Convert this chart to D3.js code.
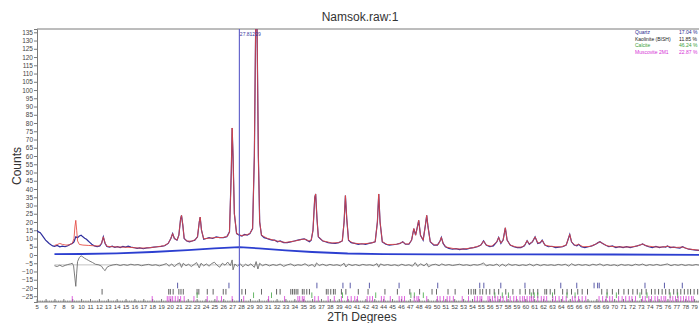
<!DOCTYPE html>
<html>
<head>
<meta charset="utf-8">
<script src="https://cdn.jsdelivr.net/npm/d3@7/dist/d3.min.js"></script>
<style>
  html, body { margin: 0; padding: 0; background: #fff; }
  svg { display: block; }
</style>
</head>
<body>
<div id="chart"></div>
<script>
// observed counts [2Th, counts]
const observedPts = [
  [5.0,15],[5.2,14],[5.4,13.5],[5.6,12],[5.8,10.5],[6.0,9],[6.2,8],[6.4,7],[6.6,6.2],[6.8,5.5],
  [7.0,5.2],[7.3,5.8],[7.6,5.0],[7.9,5.4],[8.2,5.0],[8.5,5.6],[8.8,6.5],[9.0,7],[9.2,8],[9.4,11],
  [9.6,10.5],[9.8,11.5],[10.0,12],[10.2,11],[10.4,10.2],[10.6,9.5],[10.8,8.5],[11.0,7.5],[11.2,6.5],[11.5,5.5],
  [11.8,5],[12.1,5.5],[12.3,7],[12.5,11],[12.7,7],[12.9,5.2],[13.2,4.8],[13.5,5.3],[13.8,4.6],[14.1,5.0],
  [14.4,4.5],[14.7,5.2],[15.0,4.8],[15.3,5.4],[15.6,4.8],[16.0,4.4],[16.3,4.0],[16.6,4.3],[17.0,3.8],[17.4,4.3],
  [17.8,4.5],[18.2,4.8],[18.6,5.0],[19.0,5.2],[19.4,5.6],[19.8,7.0],[20.1,10],[20.3,13],[20.5,10],[20.8,9],
  [21.0,12],[21.2,22],[21.3,24],[21.45,18],[21.6,10],[21.9,8.5],[22.2,8],[22.5,8.5],[22.8,9],[23.1,11],
  [23.3,20],[23.4,23],[23.55,15],[23.8,9.5],[24.1,10],[24.4,10.5],[24.8,10],[25.2,11],[25.6,10.5],[26.0,10.5],
  [26.4,11],[26.7,14],[26.9,50],[27.0,77],[27.1,60],[27.25,25],[27.5,13],[27.8,12],[28.1,11.5],[28.4,12.5],
  [28.7,12],[29.0,13],[29.3,16],[29.5,60],[29.65,140],[29.8,140],[29.95,60],[30.1,20],[30.3,12],[30.6,10.5],
  [30.9,10],[31.2,9.5],[31.5,9],[31.8,9],[32.1,8],[32.4,8.5],[32.8,7.5],[33.2,7.5],[33.6,8],[34.0,8.5],
  [34.4,9],[34.8,9.5],[35.1,9.8],[35.4,9],[35.7,8],[35.9,9],[36.1,15],[36.3,35],[36.4,37],[36.55,22],
  [36.7,11],[36.9,10],[37.2,8.5],[37.5,8],[37.8,7.5],[38.2,7.2],[38.6,7],[39.0,7.5],[39.4,8.5],[39.6,20],
  [39.75,36],[39.9,22],[40.1,9],[40.4,7.5],[40.8,7],[41.2,6.5],[41.6,6.8],[42.0,6.5],[42.4,7],[42.8,7.5],
  [43.1,8],[43.35,20],[43.5,37],[43.65,20],[43.9,8],[44.3,6.5],[44.7,6],[45.1,6.2],[45.5,6.5],[45.9,7],
  [46.2,8],[46.5,6.5],[46.9,6.5],[47.2,9],[47.45,16],[47.65,12],[47.85,17],[48.0,21],[48.2,12],[48.5,9],
  [48.75,18],[48.9,24],[49.05,17],[49.3,8],[49.7,6],[50.1,6],[50.4,8.5],[50.55,10.7],[50.75,7],[51.0,5],
  [51.4,4],[51.8,3.5],[52.2,3.8],[52.6,3.3],[53.0,3.7],[53.4,3.6],[53.8,4.2],[54.2,4.5],[54.6,5],[55.0,6],
  [55.3,8.5],[55.6,6],[56.0,5],[56.4,5.5],[56.8,8],[57.0,10.7],[57.25,7],[57.5,9],[57.75,16.5],[57.95,9],
  [58.3,6],[58.7,5],[59.1,4.5],[59.5,4.5],[59.9,5.5],[60.2,8.7],[60.45,6.5],[60.8,8],[61.1,11],[61.4,7],
  [61.7,7.5],[61.9,9],[62.2,6],[62.6,5],[63.0,5.3],[63.4,4.5],[63.8,4.8],[64.2,5],[64.6,6],[64.85,10],
  [65.0,12.5],[65.2,8],[65.5,6],[65.8,5.5],[66.0,6.5],[66.3,5],[66.7,4.5],[67.1,5],[67.5,5.5],[67.9,6.5],
  [68.2,7.5],[68.4,8],[68.7,7],[69.0,6],[69.4,5],[69.8,5.5],[70.2,4.5],[70.6,5],[71.0,4.5],[71.4,5],
  [71.8,4.5],[72.2,5],[72.6,5.5],[73.0,6.2],[73.2,6.7],[73.5,5.8],[73.9,5],[74.3,4.5],[74.7,5.2],[75.1,4.5],
  [75.5,5],[75.8,4.8],[76.0,5.5],[76.3,4.5],[76.7,4.8],[77.0,4.5],[77.4,4.2],[77.7,5],[78.0,4.2],[78.4,3.5],
  [78.8,3.2],[79.2,3],[79.6,2.8],[80.0,2.6]
];

// calculated profile [2Th, counts]
const calculatedPts = [
  [7,5.8],[7.3,6.3],[7.6,7],[7.9,6.4],[8.3,6],[8.7,6.2],[9.0,7],[9.2,10],[9.3,17],[9.4,21],
  [9.5,15],[9.6,8.5],[9.8,6.4],[10.2,6],[10.8,5.8],[11.4,5.6],[12.0,5.5],[12.3,7],[12.5,11],[12.7,7.2],
  [12.9,5.3],[13.5,5],[14.5,4.8],[15.5,4.6],[16.5,4.2],[17.5,4.3],[18.5,4.9],[19.3,5.6],[19.8,7],[20.1,10],
  [20.3,13],[20.5,10],[20.8,9],[21.0,12],[21.2,22],[21.3,24],[21.45,18],[21.6,10],[21.9,8.5],[22.5,8.4],
  [22.9,9.5],[23.1,11],[23.3,20],[23.4,23],[23.55,15],[23.8,9.8],[24.4,10.2],[25.2,10.6],[26.0,10.6],[26.5,11.5],
  [26.7,14],[26.9,50],[27.0,77],[27.1,60],[27.25,25],[27.5,13],[28.0,11.8],[28.6,12.2],[29.0,13],[29.3,16],
  [29.5,60],[29.65,142],[29.8,142],[29.95,60],[30.1,20],[30.3,12],[31,10],[32,8.5],[33,7.6],[34,8.4],
  [34.8,9.4],[35.2,9.6],[35.6,8.5],[35.9,9],[36.1,15],[36.3,35],[36.4,37],[36.55,22],[36.7,11],[37.2,8.6],
  [38.2,7.3],[39.0,7.5],[39.4,8.5],[39.6,20],[39.75,36],[39.9,22],[40.1,9],[40.6,7.2],[41.6,6.7],[42.6,7.2],
  [43.1,8],[43.35,20],[43.5,37],[43.65,20],[43.9,8],[44.5,6.3],[45.5,6.5],[45.9,7],[46.2,8],[46.5,6.7],
  [46.9,6.7],[47.2,9],[47.45,16],[47.65,12],[47.85,17],[48.0,21],[48.2,12],[48.5,9],[48.75,18],[48.9,24],
  [49.05,17],[49.3,8],[49.8,6],[50.2,6.3],[50.4,8.5],[50.55,10.7],[50.75,7],[51.1,4.8],[52,3.8],[53,3.6],
  [54,4.3],[54.8,5.5],[55.0,6],[55.3,8.5],[55.6,6],[56.2,5.3],[56.8,8],[57.0,10.7],[57.25,7.2],[57.5,9],
  [57.75,16.5],[57.95,9],[58.3,6],[59,4.8],[59.6,4.8],[59.9,5.8],[60.2,8.7],[60.45,6.6],[60.8,8],[61.1,11],
  [61.4,7.2],[61.7,7.6],[61.9,9],[62.2,6],[63,5.1],[64,4.9],[64.6,6],[64.85,10],[65.0,12.5],[65.2,8],
  [65.6,5.8],[66.0,6.4],[66.5,5],[67.3,5.2],[67.9,6.5],[68.2,7.5],[68.4,8],[68.7,7],[69.2,5.6],[70,5],
  [71,4.8],[72,4.9],[72.6,5.5],[73.0,6.2],[73.2,6.7],[73.6,5.6],[74.5,4.9],[75.5,4.8],[76.0,5.3],[76.5,4.7],
  [77.0,4.6],[77.7,4.8],[78.4,3.6],[79.2,3.1],[80,2.7]
];

// background [2Th, counts]
const backgroundPts = [
  [7,0.5],[10,0.6],[14,1],[18,1.8],[22,3],[25,4],[27.8,4.8],[30,4],[33,2.8],[36,1.8],
  [40,0.9],[44,0.5],[50,0.4],[60,0.4],[70,0.3],[80,0.1]
];

// difference curve, plotted with offset [2Th, counts]
const differencePts = [
  [7,-6.5],[7.3,-7],[7.6,-6.2],[7.9,-7],[8.2,-6.3],[8.5,-5.8],[8.8,-5.4],[9.0,-5],[9.15,-6.5],[9.3,-14],
  [9.4,-19],[9.5,-11],[9.6,-4],[9.8,-1.5],[10.0,-0.5],[10.2,-1.2],[10.4,-2],[10.6,-2.6],[10.8,-3.2],[11.0,-3.8],
  [11.3,-4.6],[11.6,-5.6],[12.0,-6],[12.3,-6.8],[12.5,-8.5],[12.7,-9.5],[12.9,-7.5],[13.2,-6.6],[13.6,-6],[14.0,-5.7],
  [14.4,-6.4],[14.8,-5.8],[15.2,-6.3],[15.6,-5.6],[16.0,-6.1],[16.4,-5.8],[16.8,-6.5],[17.2,-6],[17.6,-5.7],[18.0,-6.3],
  [18.4,-5.9],[18.8,-6.6],[19.2,-6],[19.6,-5.2],[19.9,-6.8],[20.2,-5.4],[20.5,-7.2],[20.8,-5.5],[21.1,-4.8],[21.3,-7.5],
  [21.5,-5],[21.8,-6.5],[22.1,-5.6],[22.4,-7],[22.7,-5.8],[23.0,-4.6],[23.3,-7.8],[23.5,-5],[23.8,-6.6],[24.1,-5.4],
  [24.4,-6.8],[24.7,-5.2],[25.0,-4.4],[25.3,-6.2],[25.6,-7.4],[25.9,-5],[26.2,-6.2],[26.5,-4.3],[26.8,-6.5],[27.0,-3],
  [27.1,-9],[27.3,-5.5],[27.6,-6.8],[27.9,-5.2],[28.2,-7.2],[28.5,-5.6],[28.8,-6.6],[29.1,-5.4],[29.5,-7.5],[29.7,-4],
  [29.9,-8.5],[30.1,-5],[30.4,-6.5],[30.8,-5.6],[31.2,-6.6],[31.6,-5.8],[32.0,-6.4],[32.4,-5.5],[32.8,-6.9],[33.2,-6],
  [33.6,-5.4],[34.0,-6.6],[34.4,-5.9],[34.8,-6.3],[35.2,-5.3],[35.6,-6.7],[36.0,-5.8],[36.3,-7.2],[36.5,-4.8],[36.8,-6.4],
  [37.2,-5.6],[37.6,-6.5],[38.0,-5.7],[38.4,-6.3],[38.8,-5.9],[39.2,-6.6],[39.6,-5],[39.8,-7.3],[40.1,-5.5],[40.5,-6.4],
  [40.9,-5.8],[41.3,-6.5],[41.7,-5.7],[42.1,-6.2],[42.5,-5.9],[42.9,-6.5],[43.3,-5.2],[43.5,-7.4],[43.7,-5.4],[44.1,-6.3],
  [44.5,-5.8],[44.9,-6.4],[45.3,-5.9],[45.7,-6.6],[46.1,-5.6],[46.5,-6.4],[46.9,-5.9],[47.3,-6.8],[47.6,-4.6],[47.9,-7],
  [48.2,-5.3],[48.6,-6.6],[48.9,-5],[49.1,-7.2],[49.5,-6],[49.9,-5.6],[50.3,-6.5],[50.6,-5.4],[51.0,-6.3],[51.4,-5.8],
  [51.8,-6.4],[52.2,-6],[52.6,-5.6],[53.0,-6.3],[53.4,-5.9],[53.8,-6.5],[54.2,-5.8],[54.6,-6.2],[55.0,-5.6],[55.3,-4.8],
  [55.6,-6.6],[56.0,-5.9],[56.4,-6.4],[56.8,-5.5],[57.1,-6.9],[57.4,-5.6],[57.8,-6.8],[58.1,-5.4],[58.5,-6.3],[58.9,-5.8],
  [59.3,-6.5],[59.7,-5.9],[60.1,-6.4],[60.5,-5.5],[60.9,-6.6],[61.3,-5.6],[61.7,-6.5],[62.1,-5.8],[62.5,-6.3],[62.9,-5.9],
  [63.3,-6.4],[63.7,-5.7],[64.1,-6.2],[64.5,-5.6],[64.9,-6.8],[65.2,-5.3],[65.6,-6.4],[66.0,-5.7],[66.4,-6.3],[66.8,-5.8],
  [67.2,-6.5],[67.6,-5.6],[68.0,-6.2],[68.4,-5.4],[68.8,-6.5],[69.2,-5.8],[69.6,-6.4],[70.0,-5.9],[70.4,-6.6],[70.8,-5.7],
  [71.2,-6.3],[71.6,-5.9],[72.0,-6.5],[72.4,-5.6],[72.8,-6.2],[73.2,-5.5],[73.6,-6.5],[74.0,-5.8],[74.4,-6.3],[74.8,-5.7],
  [75.2,-6.4],[75.6,-5.9],[76.0,-5.4],[76.4,-6.5],[76.8,-5.8],[77.2,-6.3],[77.6,-5.7],[78.0,-6.4],[78.4,-5.9],[78.8,-6.3],
  [79.2,-5.8],[79.6,-6.2],[80,-6]
];
const differenceZero = -6;

// phase reflection positions (2Th)
const quartzTicks = [20.86, 26.64, 36.54, 39.47, 40.29, 42.45, 45.79, 50.14, 54.87, 55.33, 57.24, 59.96,
  63.99, 65.79, 67.74, 68.14, 68.32, 73.47, 75.66, 77.67, 79.88];
const kaoliniteTicks = [12.36, 19.86, 20.04, 20.36, 21.0, 21.24, 21.5, 23.05, 23.25, 24.2, 24.86, 26.0, 26.3,
  28.1, 28.5, 30.3, 32.0, 32.4, 33.6, 33.8, 34.0, 34.2, 34.4, 34.9, 35.1, 35.4, 35.7, 37.6, 37.8, 38.1,
  38.4, 38.6, 39.3, 39.8, 41.2, 42.3, 44.2, 45.6, 47.0, 48.1, 49.5, 50.0, 51.3, 52.1, 53.6, 53.9, 54.2,
  54.4, 54.9, 55.2, 55.6, 56.0, 56.5, 57.0, 57.8, 58.6, 59.4, 60.0, 60.5, 60.9, 61.4, 62.2, 62.4, 62.8,
  63.3, 64.2, 64.7, 65.2, 65.9, 66.4, 67.0, 68.6, 69.2, 69.8, 70.5, 71.1, 71.6, 72.1, 72.6, 73.1, 73.6,
  74.2, 74.6, 75.0, 75.4, 75.8, 76.2, 76.7, 77.1, 77.5, 77.9, 78.3, 78.6, 79.0, 79.4];
const calciteTicks = [23.06, 29.41, 31.43, 35.97, 39.42, 43.16, 47.12, 47.51, 48.52, 56.57, 57.41, 58.1,
  60.68, 61.0, 61.4, 63.06, 64.69, 65.6, 69.2, 70.25, 72.9, 73.7, 76.3, 77.15];
const muscoviteTicks = [9.0, 18.0, 19.7, 19.9, 20.1, 20.3, 20.6, 20.9, 21.2, 21.6, 22.7, 24.2, 25.3, 25.8,
  27.0, 28.3, 31.1, 32.9, 34.4, 34.6, 34.9, 35.1, 36.3, 36.7, 37.8, 38.5, 39.3, 40.0, 40.4, 40.8, 41.1,
  42.2, 42.5, 42.8, 43.8, 44.1, 44.8, 45.8, 46.1, 46.4, 47.5, 47.8, 48.0, 48.9, 50.1, 50.4, 50.8, 51.2,
  51.5, 51.9, 52.9, 53.6, 54.3, 54.6, 54.9, 55.1, 55.8, 56.0, 56.3, 56.6, 56.9, 57.2, 57.5, 57.9, 58.3,
  58.7, 59.0, 59.4, 59.7, 59.9, 60.2, 60.5, 60.7, 60.9, 61.4, 61.8, 62.1, 62.4, 63.1, 63.4, 63.8, 64.2,
  64.6, 65.3, 65.6, 66.0, 66.4, 66.8, 68.3, 68.7, 69.1, 69.5, 69.8, 70.5, 70.9, 71.3, 71.7, 72.0, 72.4,
  73.2, 73.5, 73.9, 74.2, 74.6, 74.9, 75.3, 75.6, 75.8, 76.3, 76.6, 76.9, 77.2, 77.5, 77.8, 78.1, 78.4,
  78.7, 78.9];

// legend
const phaseNames = ["Quartz", "Kaolinite (BISH)", "Calcite", "Muscovite 2M1"];
const phaseWeights = ["17.04 %", "11.85 %", "46.24 %", "22.87 %"];
const phaseRows = [-18.5, -22.3, -24.4, -26.6];

// axes
const yTickValues = d3.range(-25, 136, 5);
const xTickValues = d3.range(5, 80, 1);
const markerPos = 27.81229;

const width = 699, height = 323;
const obsColor = "#2f2f9e";
const calcColor = "#e4473f";
const bkgColor = "#2c3fd0";
const diffColor = "#6e6e6e";
const axisColor = "#7a7a7a";
const labelColor = "#444";
const phaseColors = ["#2a2a90", "#1a1a1a", "#3aa03a", "#d633d6"];

const svg = d3.select("#chart").append("svg")
  .attr("width", width)
  .attr("height", height);

const plot = { left: 37, top: 29, right: 699, bottom: 302 };

const x = d3.scaleLinear().domain([5, 80]).range([36.7, 703]);
const y = d3.scaleLinear().domain([-28.5, 137]).range([plot.bottom, plot.top]);

svg.append("clipPath").attr("id", "clip")
  .append("rect")
  .attr("x", plot.left).attr("y", plot.top)
  .attr("width", plot.right - plot.left).attr("height", plot.bottom - plot.top);

// title
svg.append("text")
  .attr("x", 360).attr("y", 21)
  .attr("text-anchor", "middle")
  .attr("font-family", "'Liberation Sans', Arial, sans-serif")
  .attr("font-size", "12px")
  .attr("fill", "#333")
  .text("Namsok.raw:1");

// top frame line
svg.append("line")
  .attr("x1", plot.left).attr("x2", plot.right)
  .attr("y1", plot.top).attr("y2", plot.top)
  .attr("stroke", axisColor).attr("stroke-width", 1);

// y axis
const yAxis = svg.append("g")
  .attr("transform", `translate(${plot.left},0)`)
  .call(d3.axisLeft(y).tickValues(yTickValues).tickSize(3).tickPadding(1));
yAxis.select(".domain").attr("stroke", axisColor);
yAxis.selectAll(".tick line").attr("stroke", axisColor);
yAxis.selectAll("text")
  .attr("font-family", "'Liberation Sans', Arial, sans-serif")
  .attr("font-size", "6.5px")
  .attr("fill", labelColor);

// x axis (major + minor ticks pointing inward)
const xMinor = svg.append("g")
  .attr("transform", `translate(0,${plot.bottom})`)
  .call(d3.axisBottom(x).tickValues(d3.range(50, 800, 2).map(v => v / 10)).tickSize(-1.5).tickFormat(""));
xMinor.select(".domain").remove();
xMinor.selectAll(".tick line").attr("stroke", axisColor).attr("stroke-width", 0.8);

const xAxis = svg.append("g")
  .attr("transform", `translate(0,${plot.bottom})`)
  .call(d3.axisBottom(x).tickValues(xTickValues).tickSizeInner(-3).tickSizeOuter(0).tickPadding(3));
xAxis.select(".domain").attr("stroke", axisColor).attr("d", `M${plot.left},0H${plot.right}`);
xAxis.selectAll(".tick line").attr("stroke", axisColor);
xAxis.selectAll("text")
  .attr("font-family", "'Liberation Sans', Arial, sans-serif")
  .attr("font-size", "6px")
  .attr("fill", labelColor);

// axis titles
svg.append("text")
  .attr("x", 362).attr("y", 321)
  .attr("text-anchor", "middle")
  .attr("font-family", "'Liberation Sans', Arial, sans-serif")
  .attr("font-size", "12px")
  .attr("fill", "#333")
  .text("2Th Degrees");

svg.append("text")
  .attr("transform", "translate(21,166) rotate(-90)")
  .attr("text-anchor", "middle")
  .attr("font-family", "'Liberation Sans', Arial, sans-serif")
  .attr("font-size", "12px")
  .attr("fill", "#333")
  .text("Counts");

const g = svg.append("g").attr("clip-path", "url(#clip)");

const line = d3.line().x(d => x(d[0])).y(d => y(d[1]));

// difference zero line
g.append("line")
  .attr("x1", x(7)).attr("x2", x(80))
  .attr("y1", y(differenceZero)).attr("y2", y(differenceZero))
  .attr("stroke", "#a8a8a8").attr("stroke-width", 0.7);

// phase tick rows
[quartzTicks, kaoliniteTicks, calciteTicks, muscoviteTicks].forEach((ticks, i) => {
  g.selectAll(null)
    .data(ticks)
    .enter().append("line")
    .attr("x1", d => x(d)).attr("x2", d => x(d))
    .attr("y1", y(phaseRows[i]) - 2.8).attr("y2", y(phaseRows[i]) + 2.8)
    .attr("stroke", phaseColors[i])
    .attr("stroke-width", 0.9)
    .attr("opacity", i === 1 ? 0.75 : 0.85);
});

// background
g.append("path")
  .datum(backgroundPts)
  .attr("fill", "none")
  .attr("stroke", bkgColor)
  .attr("stroke-width", 1.8)
  .attr("d", line);

// difference
g.append("path")
  .datum(differencePts)
  .attr("fill", "none")
  .attr("stroke", diffColor)
  .attr("stroke-width", 0.9)
  .attr("d", line);

// observed
g.append("path")
  .datum(observedPts)
  .attr("fill", "none")
  .attr("stroke", obsColor)
  .attr("stroke-width", 1.2)
  .attr("d", line);

// calculated
g.append("path")
  .datum(calculatedPts)
  .attr("fill", "none")
  .attr("stroke", calcColor)
  .attr("stroke-width", 1)
  .attr("opacity", 0.85)
  .attr("d", line);

// cursor marker
svg.append("line")
  .attr("x1", x(markerPos)).attr("x2", x(markerPos))
  .attr("y1", plot.top).attr("y2", plot.bottom)
  .attr("stroke", "#5a5ac8").attr("stroke-width", 1.1);

svg.append("text")
  .attr("x", x(markerPos) + 0.5).attr("y", 36)
  .attr("font-family", "'Liberation Sans', Arial, sans-serif")
  .attr("font-size", "5px")
  .attr("fill", "#3a3aa0")
  .text(markerPos.toFixed(5));

// legend
phaseNames.forEach((name, i) => {
  svg.append("text")
    .attr("x", 635).attr("y", 34 + i * 6.5)
    .attr("font-family", "'Liberation Sans', Arial, sans-serif")
    .attr("font-size", "5px")
    .attr("fill", phaseColors[i])
    .text(name);
  svg.append("text")
    .attr("x", 679).attr("y", 34 + i * 6.5)
    .attr("font-family", "'Liberation Sans', Arial, sans-serif")
    .attr("font-size", "5px")
    .attr("fill", phaseColors[i])
    .text(phaseWeights[i]);
});
</script>
</body>
</html>
